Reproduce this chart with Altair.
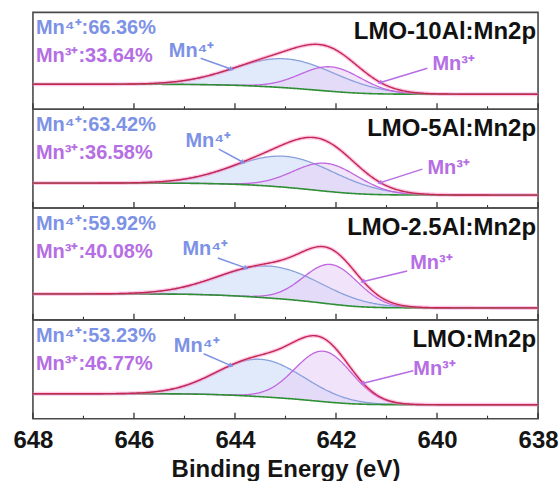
import math
import numpy as np
import pandas as pd
import altair as alt

# Mn 2p3/2 fits of the four samples (top to bottom)
samples = ["LMO-10Al", "LMO-5Al", "LMO-2.5Al", "LMO"]
mn4_pct = [66.36, 63.42, 59.92, 53.23]
mn3_pct = [33.64, 36.58, 40.08, 46.77]

# Gaussian components: centre (eV) and sigma (eV)
mn4_center = [643.0, 643.0, 643.3, 643.5]
mn4_sigma = [1.0, 1.0, 1.0, 0.86]
mn3_center = [642.1, 642.2, 642.1, 642.25]
mn3_sigma = [0.60, 0.64, 0.54, 0.56]
# total fitted Mn 2p3/2 area (a.u.), split by the percentages above
peak_area = [43.7, 48.9, 53.4, 60.5]
# Shirley background level on the high / low binding-energy side (a.u.)
bg_high = [25.0, 25.0, 26.0, 25.0]
bg_low = [15.0, 13.0, 12.0, 14.0]

# peak annotations: label anchor, arrow tail and arrow tip (eV / a.u.)
mn4_label_x = [645.31, 644.98, 645.04, 645.21]
mn4_label_y = [58, 67, 71, 73]
mn4_tail_x = [644.68, 644.32, 644.34, 644.62]
mn4_tail_y = [51, 59, 62, 65]
mn4_tip_x = [644.08, 643.85, 643.79, 644.09]
mn3_label_x = [640.09, 640.19, 640.53, 640.47]
mn3_label_y = [45, 40, 57, 50]
mn3_tail_x = [640.19, 640.29, 640.59, 640.47]
mn3_tail_y = [41, 39, 49, 48]
mn3_tip_x = [641.12, 641.12, 641.46, 641.46]

tick_values = [648, 646, 644, 642, 640, 638]
minor_ticks = [647, 645, 643, 641, 639]

panel_heights = [97, 99, 112, 99]
PANEL_W = 506
FONT = "Liberation Sans"

C_MN4 = "#7d92e6"
C_MN3 = "#b56ee4"
C_MN4_LINE = "#8aa0dc"
C_MN3_LINE = "#c066e0"
C_ENV = "#c3284f"
C_ENV_GLOW = "#ff86cc"
C_BG = "#2f8f34"

energy = np.linspace(638.0, 648.0, 501)
x_scale = alt.Scale(domain=[638, 648], reverse=True, nice=False, zero=False)
px_per_ev = PANEL_W / 10.0


def gauss(e, h, c, s):
    return h * np.exp(-((e - c) ** 2) / (2 * s * s))


def build_panel(i, last):
    h = panel_heights[i]
    h4 = peak_area[i] * mn4_pct[i] / 100.0 / mn4_sigma[i]
    h3 = peak_area[i] * mn3_pct[i] / 100.0 / mn3_sigma[i]
    g4 = gauss(energy, h4, mn4_center[i], mn4_sigma[i])
    g3 = gauss(energy, h3, mn3_center[i], mn3_sigma[i])
    total = g4 + g3
    cum = np.cumsum(total)
    bg = bg_low[i] + (bg_high[i] - bg_low[i]) * cum / cum[-1]
    env = bg + total
    df = pd.DataFrame({"E": energy, "bg": bg, "mn4": bg + g4, "mn3": bg + g3, "env": env})

    if last:
        axis = alt.Axis(values=tick_values, format="d", ticks=False, domain=False, grid=False,
                        labelFont=FONT, labelFontWeight="bold", labelFontSize=24,
                        labelColor="#151515", labelPadding=10, labelFlush=False,
                        title="Binding Energy (eV)", titleFont=FONT, titleFontWeight="bold",
                        titleFontSize=24, titleColor="#151515", titlePadding=5)
    else:
        axis = None
    x = alt.X("E:Q", scale=x_scale, axis=axis, title="Binding Energy (eV)")
    ys = alt.Scale(domain=[0, h], nice=False, zero=False)

    def Y(f):
        return alt.Y(f"{f}:Q", scale=ys, axis=None)

    base = alt.Chart(df)
    layers = [
        base.mark_area(color="#c9d8f8", opacity=0.55).encode(x=x, y=Y("mn4"), y2="bg:Q"),
        base.mark_area(color="#e6cdf6", opacity=0.55).encode(x=x, y=Y("mn3"), y2="bg:Q"),
        base.mark_line(color=C_MN4_LINE, strokeWidth=1.3).encode(x=x, y=Y("mn4")),
        base.mark_line(color=C_MN3_LINE, strokeWidth=1.3).encode(x=x, y=Y("mn3")),
        base.mark_line(color=C_BG, strokeWidth=1.6).encode(x=x, y=Y("bg")),
        base.mark_line(color=C_ENV_GLOW, strokeWidth=4, opacity=0.45).encode(x=x, y=Y("env")),
        base.mark_line(color=C_ENV, strokeWidth=1.4).encode(x=x, y=Y("env")),
    ]

    # inward ticks along the bottom edge
    layers.append(alt.Chart(pd.DataFrame({"E": tick_values})).mark_rule(color="#333", strokeWidth=1.3)
                  .encode(x=x, y=alt.value(h), y2=alt.value(h - 6)))
    layers.append(alt.Chart(pd.DataFrame({"E": minor_ticks})).mark_rule(color="#333", strokeWidth=1.1)
                  .encode(x=x, y=alt.value(h), y2=alt.value(h - 3)))

    # peak labels with arrows
    env_at = lambda e: float(np.interp(e, energy, env))
    ann = []
    for lx, ly, tx, ty, hx, lab, col in [
        (mn4_label_x[i], mn4_label_y[i], mn4_tail_x[i], mn4_tail_y[i], mn4_tip_x[i], "Mn⁴⁺", C_MN4),
        (mn3_label_x[i], mn3_label_y[i], mn3_tail_x[i], mn3_tail_y[i], mn3_tip_x[i], "Mn³⁺", C_MN3),
    ]:
        hy = env_at(hx)
        dpx = (tx - hx) * px_per_ev
        dpy = ty - hy
        ang = math.degrees(math.atan2(dpx, -dpy)) % 360
        ann.append({"lx": lx, "ly": ly, "tx": tx, "ty": ty, "hx": hx, "hy": hy,
                    "lab": lab, "col": col, "ang": ang})
    adf = pd.DataFrame(ann)
    a = alt.Chart(adf)
    layers.append(a.mark_rule(strokeWidth=1.5).encode(
        x=alt.X("tx:Q", scale=x_scale, axis=axis), y=alt.Y("ty:Q", scale=ys, axis=None),
        x2="hx:Q", y2="hy:Q", color=alt.Color("col:N", scale=None)))
    layers.append(a.mark_point(shape="triangle", filled=True, size=28, opacity=1).encode(
        x=alt.X("hx:Q", scale=x_scale, axis=axis), y=alt.Y("hy:Q", scale=ys, axis=None),
        angle=alt.Angle("ang:Q", scale=None), color=alt.Color("col:N", scale=None)))
    layers.append(a.mark_text(align="left", baseline="middle", font=FONT, fontWeight="bold",
                              fontSize=20).encode(
        x=alt.X("lx:Q", scale=x_scale, axis=axis), y=alt.Y("ly:Q", scale=ys, axis=None),
        text="lab:N", color=alt.Color("col:N", scale=None)))

    # composition read-out and sample name
    pct_df = pd.DataFrame({
        "t": [f"Mn⁴⁺:{mn4_pct[i]:.2f}%", f"Mn³⁺:{mn3_pct[i]:.2f}%"],
        "col": [C_MN4, C_MN3],
        "row": [0, 1],
    })
    layers.append(alt.Chart(pct_df).transform_calculate(yy="16 + datum.row * 28").mark_text(
        align="left", baseline="middle", font=FONT, fontWeight="bold", fontSize=20).encode(
        x=alt.value(3), y=alt.Y("yy:Q", scale=None), text="t:N", color=alt.Color("col:N", scale=None)))
    layers.append(alt.Chart(pd.DataFrame({"t": [samples[i] + ":Mn2p"]})).mark_text(
        align="right", baseline="middle", font=FONT, fontWeight="bold", fontSize=24,
        color="#111").encode(x=alt.value(PANEL_W - 2), y=alt.value(20), text="t:N"))

    return alt.layer(*layers).properties(width=PANEL_W, height=h)


panels = [build_panel(i, i == len(samples) - 1) for i in range(len(samples))]

chart = alt.vconcat(*panels, spacing=0, bounds="flush").properties(
    padding={"left": 12, "top": 11, "right": 0, "bottom": 0},
    background="white",
).configure_view(stroke="#4a4a4a", strokeWidth=1.6).configure_concat(spacing=0)

chart.save("out.html", embed_options={"renderer": "svg", "actions": False})
